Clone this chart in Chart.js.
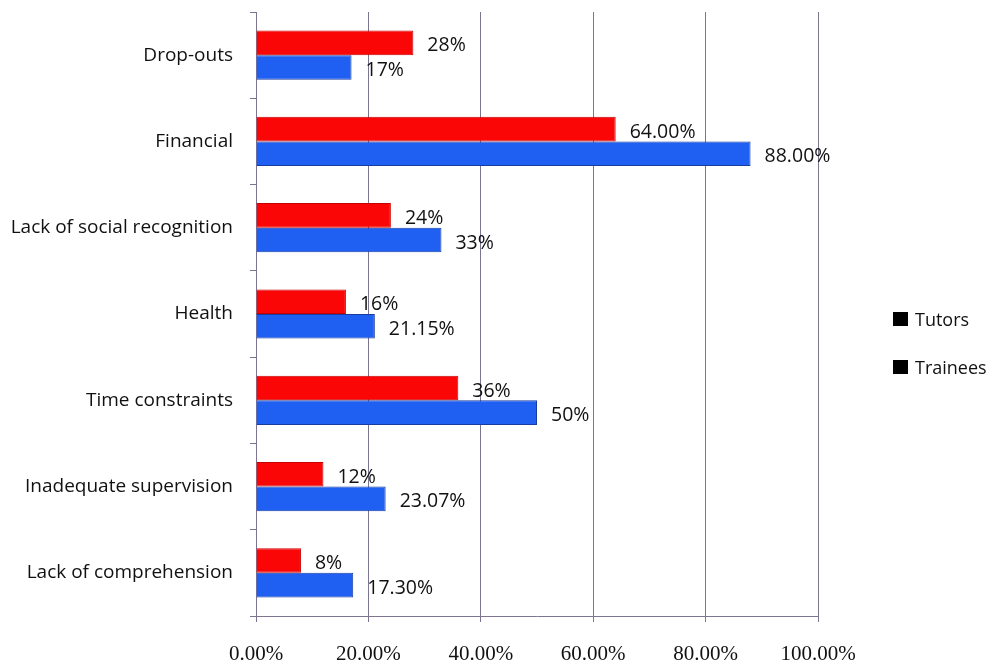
<!DOCTYPE html>
<html>
<head>
<meta charset="utf-8">
<script src="https://cdn.jsdelivr.net/npm/chart.js@4.4.0/dist/chart.umd.min.js"></script>
<style>
  html, body { margin: 0; padding: 0; background: #fff; }
  #wrap { position: relative; width: 990px; height: 662px; }
  #legend { position: absolute; left: 893px; top: 308px; font: 18px 'Open Sans', sans-serif; color: #111; }
  #legend .item { display: flex; align-items: center; height: 22px; margin-bottom: 26px; }
  #legend .sw { width: 15px; height: 14px; background: #000; margin-right: 7px; }
</style>
</head>
<body>
<div id="wrap">
  <canvas id="chart" width="990" height="662"></canvas>
  <div id="legend"></div>
</div>
<script>
/* ---------- data ---------- */
const categories = ['Drop-outs', 'Financial', 'Lack of social recognition', 'Health',
                    'Time constraints', 'Inadequate supervision', 'Lack of comprehension'];
const tutorValues   = [28, 64, 24, 16, 36, 12, 8];
const traineeValues = [17, 88, 33, 21.15, 50, 23.07, 17.30];
const tutorLabels   = ['28%', '64.00%', '24%', '16%', '36%', '12%', '8%'];
const traineeLabels = ['17%', '88.00%', '33%', '21.15%', '50%', '23.07%', '17.30%'];
const seriesNames   = ['Tutors', 'Trainees'];

/* ---------- value labels next to bars ---------- */
const barLabels = {
  id: 'barLabels',
  afterDatasetsDraw(chart) {
    const ctx = chart.ctx;
    const texts = [tutorLabels, traineeLabels];
    ctx.save();
    ctx.font = '19.5px "Open Sans", sans-serif';
    ctx.fillStyle = '#111';
    ctx.textAlign = 'left';
    ctx.textBaseline = 'middle';
    chart.data.datasets.forEach((ds, di) => {
      chart.getDatasetMeta(di).data.forEach((bar, i) => {
        ctx.fillText(texts[di][i], bar.x + 14, bar.y + 3);
      });
    });
    ctx.restore();
  }
};

const axisFont = { family: "'Liberation Serif', 'Times New Roman', serif", size: 21 };

new Chart(document.getElementById('chart'), {
  type: 'bar',
  data: {
    labels: categories,
    datasets: [
      {
        label: seriesNames[0],
        data: tutorValues,
        backgroundColor: '#fb0606',
        borderColor: '#c80000',
        borderWidth: 1,
        categoryPercentage: 0.57,
        barPercentage: 1.0,
      },
      {
        label: seriesNames[1],
        data: traineeValues,
        backgroundColor: '#1f5ff2',
        borderColor: '#1a3c9e',
        borderWidth: 1,
        categoryPercentage: 0.57,
        barPercentage: 1.0,
      },
    ],
  },
  options: {
    indexAxis: 'y',
    responsive: false,
    animation: false,
    layout: { padding: { top: 12, right: 172, bottom: 0, left: 12 } },
    plugins: {
      legend: { display: false },
      tooltip: { enabled: false },
    },
    scales: {
      x: {
        min: 0,
        max: 100,
        ticks: {
          stepSize: 20,
          color: '#111',
          font: axisFont,
          padding: 20,
          callback: v => v.toFixed(2) + '%',
        },
        grid: { color: '#7d7490', lineWidth: 1, tickLength: 6, drawTicks: true },
        border: { display: true, color: '#7d7490' },
        afterFit(scale) {
          // labels sit low, close to the bottom edge
          scale.height = 46;
        },
      },
      y: {
        ticks: {
          color: '#111',
          font: { family: "'Open Sans', sans-serif", size: 19 },
          padding: 17,
        },
        grid: { drawOnChartArea: false, drawTicks: true, tickLength: 6, color: '#7d7490', offset: true },
        border: { display: true, color: '#7d7490' },
        afterFit(scale) {
          // labels need no extra room above/below the plot; fix the axis width
          scale.paddingTop = 0;
          scale.paddingBottom = 0;
          scale.width = 244;
        },
      },
    },
  },
  plugins: [barLabels],
});

/* ---------- legend ---------- */
const legend = document.getElementById('legend');
seriesNames.forEach(name => {
  const item = document.createElement('div');
  item.className = 'item';
  item.innerHTML = '<span class="sw"></span><span>' + name + '</span>';
  legend.appendChild(item);
});
</script>
</body>
</html>
